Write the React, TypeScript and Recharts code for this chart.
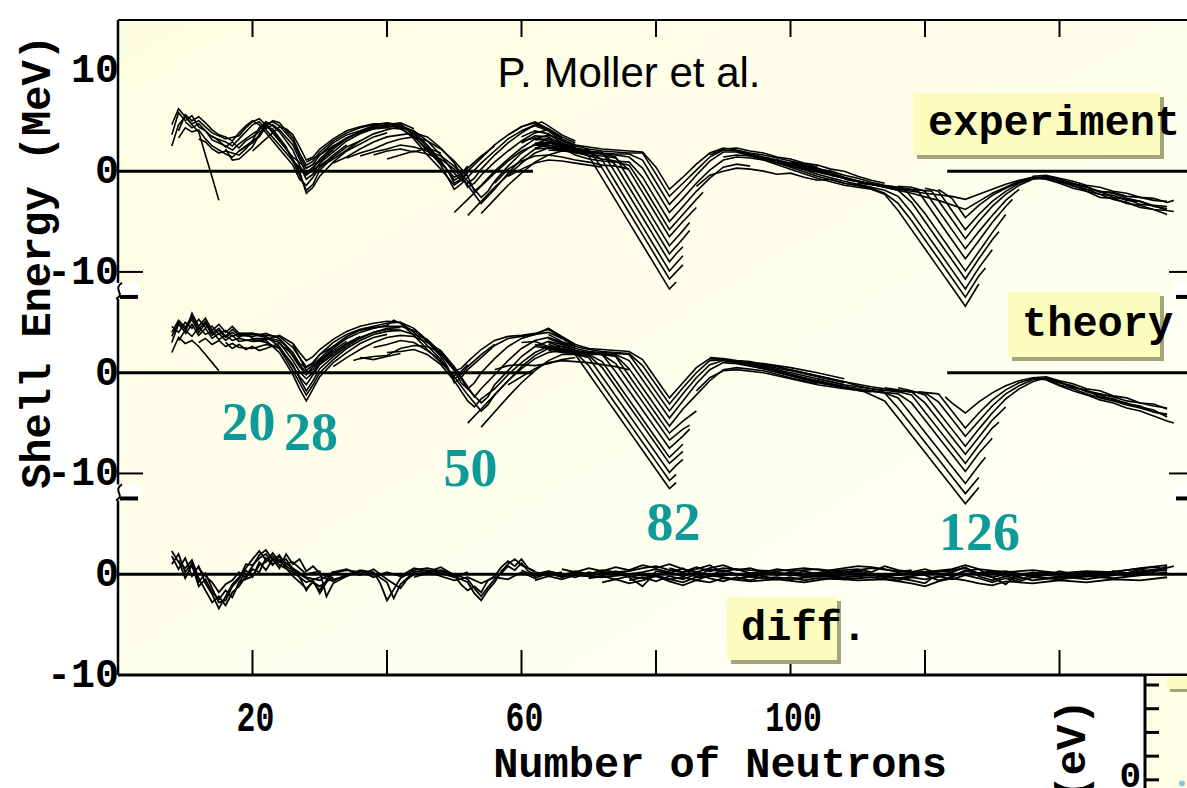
import React from 'react';
import { LineChart, Line, XAxis, YAxis, ReferenceLine, ReferenceDot, CartesianGrid } from 'recharts';

type Pt = [number, number];

// ---------------- axes & labels ----------------
const xTicks = [20, 40, 60, 80, 100, 120, 140];
const xTickLabels = ['20', '', '60', '', '100', '', ''];
const yTicks = [10, 0, -10, -20, -30, -40, -50];
const yTickLabels = ['10', '0', '-10', '0', '-10', '0', '-10'];
const breakTicks = [-10, -30];
const panelOffsets = [0, -20, -40];
const panelNames = ['experiment', 'theory', 'diff.'];
const zeroSpansTop: Pt[] = [[0, 61.7], [123.3, 160]];
const zeroSpansMid: Pt[] = [[0, 61.7], [123.3, 160]];
const zeroSpansBottom: Pt[] = [[0, 160]];
const magicNumbers = ['20', '28', '50', '82', '126'];
const magicLabelN = [19.4, 28.7, 52.4, 82.6, 128.1];
const magicLabelE = [-26.7, -27.7, -31.2, -36.6, -37.6];

// ---------------- experiment (top panel), MeV ----------------
const expLight: Pt[][] = [
  [[8,2.5],[9,4.6],[10,5.4],[11,4.6],[12,3.9],[13,1.6],[14,-0.6],[15,-2.9]],
  [[8,3.6],[9,5.8],[10,5.0],[11,5.5],[12,4.4],[13,4.0],[14,3.4],[16,2.9],[17,2.5],[18,3.2],[20,4.6],[21,4.9],[22,4.1],[24,2.6],[26,1.0],[28,-0.4],[30,0.6],[32,1.4]],
  [[8,4.6],[9,6.2],[10,5.4],[11,4.7],[12,5.0],[13,4.4],[14,3.8],[16,3.2],[18,3.5],[19,4.3],[20,4.9],[21,5.2],[22,4.6],[24,3.0],[26,1.4],[28,0.3],[30,1.0],[32,2.1]],
  [[9,3.3],[10,4.3],[11,3.9],[12,4.1],[13,3.2],[14,2.5],[16,1.7],[17,1.4],[18,2.0],[20,3.0],[21,3.4],[22,4.4],[23,4.2],[25,2.4],[27,-0.4],[28,-1.9],[29,-1.3],[30,0.1],[32,1.4],[34,2.4],[36,3.0]],
  [[10,4.9],[11,4.3],[12,4.7],[13,4.0],[14,3.1],[16,2.5],[17,2.1],[18,2.7],[20,3.7],[21,4.1],[22,4.7],[24,3.2],[26,1.2],[27,0.0],[28,-2.2],[29,-1.6],[30,-0.5],[32,0.9],[34,2.0],[36,2.7],[38,3.4],[40,3.8]],
  [[12,3.2],[13,2.9],[14,2.2],[15,1.8],[16,2.0],[18,1.6],[19,2.2],[20,3.0],[21,4.3],[22,4.9],[23,4.5],[24,3.9],[26,2.1],[27,0.6],[28,-0.8],[29,-0.3],[30,0.8],[32,1.9],[34,3.0],[36,3.7],[38,4.2],[40,4.5],[42,4.4]],
  [[16,2.2],[17,1.1],[18,1.2],[19,1.8],[20,2.4],[21,3.6],[22,4.7],[23,4.9],[24,4.5],[26,3.0],[27,1.5],[28,0.3],[29,0.7],[30,1.6],[32,2.8],[34,3.6],[36,4.0],[38,4.5],[40,4.6],[42,4.7],[44,3.5],[46,2.0],[48,0.8],[50,-0.6],[51,-0.3],[52,0.5]],
  [[18,2.0],[20,2.8],[22,4.4],[23,5.0],[24,4.8],[25,4.0],[26,3.3],[27,1.8],[28,0.6],[29,1.0],[30,1.9],[32,3.0],[34,3.8],[36,4.3],[38,4.6],[40,4.8],[42,4.6],[44,3.9],[46,2.6],[48,1.0],[50,-0.9],[51,-0.5],[52,0.3],[54,1.5],[56,2.5]],
  [[9,4.0],[10,5.6],[11,5.0],[12,5.4],[13,4.8],[14,4.1],[15,3.6],[16,3.4],[17,3.0],[18,3.8],[19,4.5],[20,5.0],[21,4.6],[22,3.8],[24,2.2],[26,0.6],[27,-0.8],[28,-1.4],[29,-0.6],[30,0.4],[32,1.6],[34,2.6]],
  [[14,3.5],[15,3.0],[16,2.4],[17,2.9],[18,2.3],[19,3.0],[20,3.4],[21,3.9],[22,4.2],[23,4.6],[24,4.1],[26,2.6],[27,1.2],[28,-0.2],[29,0.2],[30,1.2],[32,2.4],[34,3.3],[36,3.9],[38,4.4],[40,4.6],[42,4.8],[44,4.2]],
  [[20,2.0],[21,2.6],[22,3.2],[23,3.8],[24,4.4],[25,4.2],[26,3.6],[27,2.4],[28,1.1],[29,1.4],[30,2.2],[32,3.2],[34,4.0],[36,4.4],[38,4.7],[40,4.7],[42,4.4],[44,3.2],[46,1.6],[48,0.2],[50,-1.4],[51,-0.9],[52,-0.2]],
];
const expMid: Pt[][] = [
  [[26,1.0],[28,-0.2],[30,1.0],[32,2.2],[34,3.2],[36,3.9],[38,4.3],[40,4.4],[42,4.5],[44,3.7],[46,2.4],[48,0.9],[49,0.1],[50,-1.2],[51,-0.8],[52,0.0],[54,1.3],[56,2.6],[58,3.6],[60,4.4],[62,4.8],[64,4.0],[66,3.3]],
  [[30,0.4],[32,1.2],[34,2.1],[36,3.0],[38,3.7],[40,4.1],[42,4.4],[44,4.0],[46,3.0],[48,1.6],[50,-0.2],[51,-0.9],[52,-1.2],[53,-0.7],[54,0.2],[56,1.6],[58,2.8],[60,3.8],[62,4.6],[63,4.9],[64,4.5],[66,3.6],[68,3.0]],
  [[32,0.8],[34,1.4],[36,2.2],[38,2.9],[40,3.4],[42,3.6],[44,3.8],[46,3.4],[48,2.3],[50,0.8],[51,-0.3],[52,-1.6],[53,-1.2],[54,-0.4],[56,0.9],[58,2.0],[60,3.0],[62,3.8],[64,4.1],[66,3.4],[68,2.8]],
  [[34,1.3],[36,1.8],[38,2.2],[40,2.8],[42,3.2],[44,3.4],[46,3.0],[48,2.2],[50,1.0],[52,-0.5],[53,-2.0],[54,-1.4],[56,0.0],[58,1.2],[60,2.3],[62,3.2],[64,3.6],[66,3.1],[68,2.6]],
  [[36,1.5],[38,1.9],[40,2.2],[42,2.6],[44,2.4],[46,2.0],[48,1.5],[50,0.5],[52,-1.0],[54,-2.6],[55,-2.0],[56,-1.0],[58,0.5],[60,1.8],[62,2.7],[64,3.2],[66,2.8],[68,2.4]],
  [[38,1.6],[40,2.0],[42,2.2],[44,1.9],[46,2.3],[48,1.8]],
  [[50,-4.1],[52,-2.8],[54,-1.5],[56,-0.2],[58,1.0],[60,2.0],[62,2.6],[64,2.8],[66,2.7],[68,2.3]],
  [[52,-4.4],[54,-3.0],[56,-1.6],[58,-0.4],[60,0.8],[62,1.8],[64,2.3],[66,2.4],[68,2.2]],
  [[54,-4.2],[56,-2.8],[58,-1.4],[60,-0.2],[62,0.9],[64,1.6],[66,2.0],[68,1.9],[70,1.6]],
  [[28,0.9],[30,1.6],[32,2.5],[34,3.3],[36,3.8],[38,4.2],[40,4.3],[42,4.2],[44,3.4],[46,2.2],[48,0.6],[50,-1.8],[51,-1.3],[52,-0.6],[54,0.8],[56,2.0],[58,3.2],[60,4.0],[62,4.6],[64,4.2],[66,3.4]],
  [[40,1.2],[42,1.6],[44,2.0],[46,1.7],[48,1.2],[50,0.2],[52,-1.4],[54,-3.2],[56,-1.8],[58,-0.2],[60,1.2],[62,2.2],[64,2.8],[66,2.5],[68,2.1]],
  [[56,-1.2],[58,0.2],[60,1.0],[62,1.5],[64,1.6],[66,1.4],[68,1.1],[70,0.9],[72,0.6],[74,0.5],[76,0.2]],
  [[58,-0.5],[60,0.2],[62,0.8],[64,1.1],[66,1.0],[68,0.8],[70,0.6],[72,0.4]],
];
const expV82: Pt[][] = [
  [[58,3.6],[60,4.4],[62,4.9],[64,4.2],[66,3.2],[68,2.6],[70,2.4],[72,2.2],[74,2.1],[76,2.0],[78,1.9],[80,0.4],[82,-1.8],[84,-0.6],[86,0.7],[88,1.8],[90,2.3],[92,2.1],[94,1.8],[96,1.6],[98,1.3],[100,1.0],[102,0.7],[104,0.4]],
  [[60,4.0],[62,4.5],[64,4.0],[66,3.0],[68,2.5],[70,2.2],[72,2.0],[74,1.9],[76,1.8],[78,1.8],[80,-0.3],[82,-2.5],[84,-1.2],[86,0.1],[88,1.4],[90,2.1],[92,2.0],[94,1.7],[96,1.4],[98,1.1],[100,0.8],[102,0.5],[106,-0.2]],
  [[60,3.4],[62,4.0],[64,3.7],[66,2.8],[68,2.3],[70,2.0],[72,1.8],[74,1.7],[76,1.7],[78,1.1],[80,-1.1],[82,-3.3],[84,-1.9],[86,-0.4],[88,1.0],[90,1.9],[92,1.9],[94,1.6],[96,1.3],[98,1.0],[100,0.6],[104,0.0],[108,-0.6]],
  [[60,2.8],[62,3.5],[64,3.4],[66,2.6],[68,2.1],[70,1.8],[72,1.7],[74,1.6],[76,1.4],[78,0.3],[80,-1.9],[82,-4.1],[84,-2.7],[86,-1.2],[88,0.1],[90,1.1],[92,1.4],[94,1.3],[96,1.1],[98,0.8],[100,0.5],[104,-0.1],[108,-0.7]],
  [[62,3.1],[64,3.2],[66,2.4],[68,1.9],[70,1.5],[72,1.2],[74,1.0],[76,0.9],[78,-0.6],[80,-2.8],[82,-5.0],[84,-3.5],[86,-2.0],[88,-0.7],[90,0.4],[92,0.7],[94,0.5]],
  [[62,2.7],[64,2.9],[66,2.3],[68,1.6],[70,1.2],[72,1.0],[74,0.9],[76,0.6],[78,-1.4],[80,-3.6],[82,-5.8],[84,-4.3],[86,-2.8],[87,-2.1]],
  [[62,2.3],[64,2.6],[66,2.2],[68,1.8],[70,1.6],[72,1.5],[74,1.3],[76,0.1],[78,-2.1],[80,-4.3],[82,-6.5],[84,-5.0],[86,-3.6]],
  [[64,2.4],[66,2.1],[68,1.9],[70,1.8],[72,1.7],[74,1.4],[76,-0.8],[78,-3.0],[80,-5.2],[82,-7.4],[84,-5.9],[85,-5.1]],
  [[62,2.2],[64,2.3],[66,2.0],[68,1.9],[70,1.8],[72,1.8],[74,0.6],[76,-1.6],[78,-3.8],[80,-6.0],[82,-8.2],[84,-6.7],[85,-5.9]],
  [[64,2.1],[66,2.0],[68,2.0],[70,1.9],[72,1.9],[74,-0.2],[76,-2.4],[78,-4.6],[80,-6.8],[82,-9.0],[83,-8.2],[84,-7.5]],
  [[62,2.6],[64,2.4],[66,2.1],[68,2.0],[70,2.0],[72,1.1],[74,-1.1],[76,-3.3],[78,-5.5],[80,-7.7],[82,-9.9],[84,-8.4]],
  [[62,2.8],[64,2.6],[66,2.3],[68,2.2],[70,2.1],[72,0.3],[74,-1.9],[76,-4.1],[78,-6.3],[80,-8.5],[82,-10.7],[83,-10.0],[84,-9.3]],
  [[60,3.0],[62,3.3],[64,3.0],[66,2.6],[68,2.3],[70,1.5],[72,-0.7],[74,-2.9],[76,-5.1],[78,-7.3],[80,-9.5],[82,-11.7],[83,-11.0]],
];
const expRidge: Pt[][] = [
  [[86,-1.5],[88,-0.4],[90,0.0],[92,0.3],[94,0.2],[96,0.0],[98,-0.3],[100,-0.2],[102,-0.6],[104,-0.9],[106,-0.8],[108,-1.2],[110,-1.4],[112,-1.6]],
  [[88,1.6],[90,2.2],[92,2.3],[94,2.0],[96,1.8],[98,1.4],[100,1.2],[102,0.8],[104,0.6],[106,0.2],[108,0.0],[110,-0.5],[112,-0.9],[114,-1.2]],
  [[90,1.4],[92,1.6],[94,1.5],[96,1.2],[98,1.1],[100,0.7],[102,0.6],[104,0.2],[106,0.0],[108,-0.4],[110,-0.7],[112,-1.1],[114,-1.4],[116,-1.6]],
];
const expV126: Pt[][] = [
  [[100,0.9],[104,0.3],[108,-0.6],[112,-1.3],[116,-1.8],[120,-2.2],[124,-2.5],[126,-2.8],[128,-2.3],[130,-1.8],[132,-1.3],[134,-0.9],[136,-0.6],[138,-0.6],[140,-0.9],[142,-1.3],[144,-1.6],[146,-2.0],[148,-2.1],[150,-2.5],[152,-2.6],[154,-2.9],[156,-3.0]],
  [[98,1.0],[102,0.4],[106,-0.3],[110,-1.0],[114,-1.6],[118,-2.2],[122,-2.9],[126,-3.8],[128,-3.0],[130,-2.2],[132,-1.6],[134,-1.0],[136,-0.6],[138,-0.7],[140,-1.0],[142,-1.5],[144,-1.8],[146,-2.3],[148,-2.4],[150,-2.9],[152,-3.0],[154,-3.4],[156,-3.5]],
  [[122,-1.8],[124,-2.7],[126,-4.6],[128,-3.4],[130,-2.4],[132,-1.7],[134,-1.1],[136,-0.7],[138,-0.8],[140,-1.2],[142,-1.7],[144,-2.0],[146,-2.6],[148,-2.7],[150,-3.2],[152,-3.4],[154,-3.8],[156,-3.9]],
  [[120,-1.7],[122,-2.0],[124,-3.9],[126,-5.8],[128,-4.3],[130,-3.0],[132,-2.0],[134,-1.2],[136,-0.7],[138,-0.5],[140,-0.8],[142,-1.2],[144,-1.5],[146,-2.1],[148,-2.2],[150,-2.7],[152,-3.0],[154,-3.5],[156,-3.7]],
  [[110,-1.2],[114,-1.5],[118,-1.8],[121,-2.0],[124,-4.8],[126,-6.7],[128,-5.0],[130,-3.5],[132,-2.3],[134,-1.4],[136,-0.8],[138,-0.6],[140,-1.0],[142,-1.2],[144,-1.8],[146,-2.0],[148,-2.6],[150,-2.8],[152,-3.3],[154,-3.4],[156,-3.9],[157,-4.0]],
  [[116,-1.5],[118,-1.6],[120,-2.0],[122,-3.9],[124,-5.8],[126,-7.7],[128,-6.0],[130,-4.4],[132,-2.9],[134,-1.8]],
  [[108,-0.8],[112,-1.3],[116,-1.6],[119,-2.0],[122,-4.9],[124,-6.8],[126,-8.7],[128,-6.9],[130,-5.1],[132,-3.5],[133,-2.8]],
  [[106,-0.4],[110,-1.0],[114,-1.5],[117,-1.8],[120,-4.2],[122,-6.1],[124,-8.0],[126,-9.9],[128,-8.0],[130,-6.1],[132,-4.3]],
  [[104,0.0],[108,-0.7],[112,-1.3],[116,-1.9],[118,-3.1],[120,-5.0],[122,-6.9],[124,-8.8],[126,-10.7],[128,-8.7],[130,-6.8],[131,-6.0]],
  [[100,0.6],[104,-0.3],[108,-1.0],[112,-1.6],[114,-1.9],[116,-2.5],[118,-4.1],[120,-6.0],[122,-7.9],[124,-9.8],[126,-11.7],[128,-9.6],[130,-7.8]],
  [[96,1.3],[100,0.4],[104,-0.5],[108,-1.2],[112,-1.7],[114,-2.2],[116,-3.2],[118,-4.9],[120,-6.8],[122,-8.7],[124,-10.6],[126,-12.5],[128,-10.4],[129,-9.6]],
  [[92,1.9],[96,1.1],[100,0.2],[104,-0.7],[108,-1.4],[112,-1.8],[114,-2.3],[116,-3.9],[118,-5.8],[120,-7.7],[122,-9.6],[124,-11.5],[126,-13.4],[128,-11.2]],
];
const expTail: Pt[][] = [
  [[136,-0.5],[138,-0.4],[140,-0.7],[142,-1.0],[144,-1.4],[146,-1.6],[148,-2.0],[150,-2.2],[152,-2.6],[154,-2.7],[156,-3.1],[157,-2.9]],
  [[138,-0.7],[140,-1.1],[142,-1.4],[144,-2.0],[146,-2.3],[148,-2.8],[150,-3.1],[152,-3.6],[154,-3.8],[156,-4.3]],
];

// ---------------- theory (middle panel), MeV ----------------
const thLight: Pt[][] = [
  [[8,2.0],[9,3.5],[10,2.9],[11,3.2],[12,2.6],[13,1.8],[14,1.0],[15,0.2]],
  [[8,3.0],[9,4.8],[10,4.0],[11,5.9],[12,4.6],[13,5.4],[14,4.2],[15,4.8],[16,4.0],[17,4.6],[18,3.9],[20,3.8],[22,3.5],[24,3.2],[25,2.6],[26,1.6],[27,0.6],[28,-0.2],[29,0.6],[30,1.2],[32,2.2]],
  [[8,4.0],[9,5.2],[10,4.5],[11,5.6],[12,4.3],[13,5.1],[14,3.9],[15,4.4],[16,3.6],[17,4.3],[18,3.7],[20,3.6],[22,3.9],[24,3.4],[26,2.0],[27,0.9],[28,0.5],[29,1.0],[30,1.8],[32,2.6],[34,3.4]],
  [[8,4.6],[9,4.0],[10,5.0],[11,4.4],[12,5.3],[13,4.5],[14,4.6],[15,3.8],[16,4.2],[17,3.6],[18,3.9],[20,3.9],[22,3.6],[24,2.6],[26,0.6],[27,-0.4],[28,-1.2],[29,-0.2],[30,0.8],[32,2.0],[34,2.9],[36,3.6]],
  [[9,3.2],[10,4.2],[11,3.6],[12,4.5],[13,3.8],[14,4.1],[15,3.3],[16,3.7],[17,3.2],[18,3.4],[20,3.1],[22,3.2],[24,2.0],[26,-0.2],[27,-1.6],[28,-2.8],[29,-1.6],[30,-0.4],[32,1.0],[34,2.0],[36,2.9],[38,3.5],[40,3.8]],
  [[12,3.0],[13,3.4],[14,2.8],[15,3.2],[16,2.6],[17,2.9],[18,2.5],[20,2.4],[22,2.8],[24,2.5],[26,0.8],[27,-0.6],[28,-1.8],[29,-0.8],[30,0.4],[32,1.6],[34,2.6],[36,3.4],[38,4.0],[40,4.4],[42,4.5]],
  [[16,3.0],[17,2.4],[18,2.8],[19,2.3],[20,2.6],[21,2.2],[22,2.4],[24,2.9],[26,1.8],[27,0.8],[28,0.0],[29,0.3],[30,1.2],[32,2.4],[34,3.4],[36,4.0],[38,4.4],[40,4.7],[41,5.2],[42,4.9],[44,3.7],[46,2.3],[48,1.0],[50,-0.3],[51,0.1],[52,0.8]],
  [[18,3.8],[20,3.9],[22,3.7],[24,3.6],[26,2.5],[27,1.5],[28,0.6],[29,1.0],[30,1.8],[32,3.0],[34,3.8],[36,4.3],[38,4.6],[40,4.9],[42,5.0],[44,4.0],[46,2.7],[48,1.3],[50,-0.6],[51,-0.2],[52,0.6],[54,1.8],[56,2.8]],
  [[8,3.6],[9,5.0],[10,4.3],[11,5.3],[12,4.0],[13,4.9],[14,3.7],[15,4.2],[16,3.5],[17,4.0],[18,3.5],[19,3.9],[20,3.4],[22,3.4],[24,3.0],[26,1.2],[27,0.1],[28,-0.6],[29,0.0],[30,1.0],[32,2.2],[34,3.1]],
  [[10,3.8],[11,4.8],[12,3.7],[13,4.4],[14,3.4],[15,3.9],[16,3.2],[17,3.7],[18,3.1],[20,3.3],[22,3.0],[24,2.4],[26,0.2],[27,-1.0],[28,-2.2],[29,-1.2],[30,0.0],[32,1.3],[34,2.4],[36,3.2],[38,3.8],[40,4.1],[42,4.2]],
  [[20,3.2],[22,3.3],[24,3.7],[26,2.9],[27,2.0],[28,1.2],[29,1.6],[30,2.3],[32,3.3],[34,4.1],[36,4.6],[38,4.9],[40,5.1],[42,5.0],[44,4.4],[46,3.2],[48,1.8],[50,0.2],[51,0.4],[52,1.1],[54,2.3],[56,3.2],[58,3.6],[60,3.7],[62,3.9],[64,4.3],[66,3.4]],
];
const thMid: Pt[][] = [
  [[26,2.8],[28,0.2],[30,1.4],[32,2.6],[34,3.6],[36,4.2],[38,4.5],[40,4.6],[42,4.6],[44,4.2],[46,3.1],[48,1.6],[49,0.6],[50,-1.0],[51,-0.5],[52,0.3],[54,1.5],[56,2.7],[58,3.4],[60,3.6],[62,3.8],[64,4.4],[66,3.6],[68,2.8]],
  [[30,0.8],[32,1.8],[34,2.8],[36,3.5],[38,4.0],[40,4.3],[42,4.2],[44,3.8],[46,3.3],[48,2.0],[50,0.3],[51,-1.0],[52,-1.6],[53,-1.0],[54,0.0],[56,1.4],[58,2.6],[60,3.4],[62,3.8],[64,4.0],[66,3.4],[68,2.6]],
  [[32,0.6],[34,1.5],[36,2.3],[38,3.0],[40,3.5],[42,3.7],[44,3.6],[46,3.0],[48,2.2],[50,0.6],[52,-1.4],[53,-2.4],[54,-1.6],[56,-0.2],[58,1.2],[60,2.4],[62,3.2],[64,3.5],[66,3.0],[68,2.4]],
  [[35,1.2],[36,1.4],[38,1.6],[40,1.7],[42,2.4],[44,2.7],[46,2.6],[48,2.0],[50,0.4],[52,-1.6],[54,-3.0],[55,-2.4],[56,-1.2],[58,0.2],[60,1.6],[62,2.6],[64,3.1],[66,2.8],[68,2.2]],
  [[38,2.5],[40,2.8],[42,3.2],[44,3.0],[46,2.2],[48,1.2],[50,-0.4],[52,-2.2],[54,-3.8],[55,-3.2],[56,-2.2],[58,-0.8],[60,0.6],[62,1.7],[64,2.4],[66,2.4],[68,2.0]],
  [[52,-5.0],[54,-3.6],[56,-2.2],[58,-0.8],[60,0.4],[62,1.4],[64,2.0],[66,2.2],[68,1.9],[70,1.6]],
  [[54,-5.4],[56,-3.9],[58,-2.4],[60,-1.0],[62,0.2],[64,1.2],[66,1.8],[68,1.8],[70,1.5]],
  [[56,0.3],[58,0.7],[60,0.8],[62,0.7],[64,0.9],[66,1.3],[68,1.5]],
  [[36,1.5],[38,1.3],[40,1.6],[42,1.9]],
  [[40,2.0],[42,2.1],[44,2.3],[46,1.8],[48,0.8],[50,-0.8],[52,-2.8],[53,-3.4],[54,-2.6],[56,-1.6],[58,-0.2],[60,1.0],[62,2.0],[64,2.6],[66,2.6],[68,2.2]],
  [[58,-1.2],[60,-0.4],[62,0.4],[64,1.0],[66,1.2],[68,1.1],[70,1.0],[72,0.8],[74,0.6],[76,0.3]],
];
const thV82: Pt[][] = [
  [[62,3.8],[64,4.4],[66,3.5],[68,2.8],[70,2.4],[72,2.3],[74,2.2],[76,2.1],[78,1.3],[80,-0.6],[82,-2.5],[84,-1.0],[86,0.5],[88,1.4],[90,1.3],[92,1.1],[96,0.9],[100,0.5],[104,0.0],[108,-0.6]],
  [[64,3.8],[66,3.1],[68,2.6],[70,2.3],[72,2.1],[74,2.0],[76,1.9],[78,0.7],[80,-1.2],[82,-3.1],[84,-1.5],[86,0.0],[88,1.2],[90,1.3],[92,1.1],[96,0.7],[100,0.2],[104,-0.4],[108,-1.0]],
  [[64,3.4],[66,2.9],[68,2.4],[70,2.1],[72,2.0],[74,1.9],[76,1.8],[78,0.0],[80,-1.9],[82,-3.8],[84,-2.1],[86,-0.5],[88,0.8],[90,1.2],[92,1.0],[96,0.6],[100,0.0],[104,-0.6],[108,-1.2]],
  [[64,3.0],[66,2.6],[68,2.2],[70,2.0],[72,1.9],[74,1.8],[76,1.2],[78,-0.7],[80,-2.6],[82,-4.5],[84,-2.8],[86,-1.1],[88,0.3],[90,1.0],[92,0.9],[96,0.4],[100,-0.3],[104,-0.9],[108,-1.5]],
  [[64,2.8],[66,2.4],[68,2.1],[70,1.9],[72,1.8],[74,1.7],[76,0.4],[78,-1.5],[80,-3.4],[82,-5.3],[84,-3.6],[86,-2.2],[88,-0.8],[90,0.3],[92,0.5],[96,0.2],[100,-0.5],[104,-1.1]],
  [[64,2.6],[66,2.3],[68,2.0],[70,1.9],[72,1.8],[74,1.6],[76,-0.3],[78,-2.2],[80,-4.1],[82,-6.0],[84,-4.8],[86,-3.8]],
  [[66,2.2],[68,2.0],[70,1.9],[72,1.8],[74,0.9],[76,-1.0],[78,-2.9],[80,-4.8],[82,-6.7],[84,-5.6],[85,-5.2]],
  [[66,2.1],[68,1.9],[70,1.8],[72,1.8],[74,0.1],[76,-1.8],[78,-3.7],[80,-5.6],[82,-7.5],[84,-6.3],[85,-5.6]],
  [[64,2.4],[66,2.1],[68,1.9],[70,1.8],[72,1.1],[74,-0.8],[76,-2.7],[78,-4.6],[80,-6.5],[82,-8.4],[84,-7.1]],
  [[64,2.2],[66,2.0],[68,1.8],[70,1.7],[72,0.5],[74,-1.4],[76,-3.3],[78,-5.2],[80,-7.1],[82,-9.0],[83,-8.4],[84,-7.8]],
  [[62,2.6],[64,2.4],[66,2.1],[68,1.9],[70,1.5],[72,-0.4],[74,-2.3],[76,-4.2],[78,-6.1],[80,-8.0],[82,-9.9],[83,-9.2],[84,-8.6]],
  [[62,2.8],[64,2.5],[66,2.2],[68,2.0],[70,0.7],[72,-1.2],[74,-3.1],[76,-5.0],[78,-6.9],[80,-8.8],[82,-10.7],[83,-10.1]],
  [[60,3.0],[62,3.1],[64,2.6],[66,2.2],[68,1.8],[70,-0.1],[72,-2.0],[74,-3.9],[76,-5.8],[78,-7.7],[80,-9.6],[82,-11.5],[83,-10.9]],
];
const thRidge: Pt[][] = [
  [[86,-1.8],[88,-0.5],[90,0.2],[92,0.3],[96,0.0],[100,-0.6],[104,-1.2],[108,-1.6],[112,-1.9]],
  [[88,1.5],[90,1.4],[92,1.2],[94,1.1],[96,0.8],[98,0.6],[100,0.3],[102,0.0],[104,-0.3],[106,-0.6],[108,-0.9],[110,-1.3],[112,-1.6],[114,-1.8]],
];
const thV126: Pt[][] = [
  [[123,-2.4],[124,-3.0],[126,-4.0],[128,-2.9],[130,-2.0],[132,-1.3],[134,-0.8],[136,-0.5],[138,-0.6],[140,-1.0],[142,-1.4],[144,-1.8],[146,-2.1],[148,-2.4],[150,-2.8],[152,-3.0],[154,-3.3],[156,-3.5]],
  [[119,-1.9],[122,-2.1],[124,-3.8],[126,-5.5],[128,-4.0],[130,-2.7],[132,-1.7],[134,-1.0],[136,-0.6],[138,-0.7],[140,-1.2],[142,-1.6],[144,-2.1],[146,-2.5],[148,-2.8],[150,-3.2],[152,-3.5],[154,-3.9],[156,-4.1]],
  [[100,0.3],[104,-0.3],[108,-0.9],[112,-1.4],[116,-1.8],[120,-2.0],[122,-2.9],[124,-4.6],[126,-6.3],[128,-4.8],[130,-3.3],[132,-2.1],[134,-1.3],[136,-0.7],[138,-0.6],[140,-1.0],[142,-1.3],[144,-1.9],[146,-2.2],[148,-2.7],[150,-3.0],[152,-3.4],[154,-3.7],[156,-4.4]],
  [[116,-1.5],[118,-1.8],[120,-2.2],[122,-3.9],[124,-5.6],[126,-7.3],[128,-5.6],[130,-4.0],[132,-2.6],[134,-1.6],[136,-0.9],[138,-0.5],[140,-0.9],[142,-1.5],[144,-1.7],[146,-2.4],[148,-2.6],[150,-3.1],[152,-3.3],[154,-3.9],[156,-4.2]],
  [[114,-1.5],[116,-1.7],[118,-1.9],[120,-3.0],[122,-4.7],[124,-6.4],[126,-8.1],[128,-6.4],[130,-4.7],[132,-3.4]],
  [[104,-0.6],[108,-1.2],[112,-1.6],[116,-1.9],[118,-2.2],[120,-3.9],[122,-5.6],[124,-7.3],[126,-9.0],[128,-7.2],[130,-5.5],[131,-4.9]],
  [[100,-0.2],[104,-0.8],[108,-1.4],[112,-1.8],[116,-2.1],[118,-3.0],[120,-4.7],[122,-6.4],[124,-8.1],[126,-9.8],[128,-8.0],[130,-6.5]],
  [[98,0.2],[102,-0.6],[106,-1.2],[110,-1.7],[114,-2.0],[116,-2.5],[118,-4.2],[120,-5.9],[122,-7.6],[124,-9.3],[126,-11.0],[128,-9.2],[129,-8.4]],
  [[94,0.8],[98,0.2],[102,-0.5],[106,-1.1],[110,-1.6],[114,-2.0],[116,-3.5],[118,-5.2],[120,-6.9],[122,-8.6],[124,-10.3],[126,-12.0],[128,-10.4]],
  [[92,1.0],[96,0.4],[100,-0.3],[104,-1.0],[108,-1.5],[111,-1.9],[114,-2.8],[116,-4.5],[118,-6.2],[120,-7.9],[122,-9.6],[124,-11.3],[126,-13.0],[127,-12.2],[128,-11.4]],
];
const thTail: Pt[][] = [
  [[136,-0.5],[138,-0.4],[140,-0.8],[142,-1.1],[144,-1.6],[146,-1.8],[148,-2.3],[150,-2.5],[152,-3.0],[154,-3.1],[156,-3.6]],
  [[138,-0.7],[140,-1.3],[142,-1.8],[144,-2.2],[146,-2.7],[148,-3.0],[150,-3.5],[152,-3.8],[154,-4.3],[156,-4.8],[157,-5.0]],
];

// ---------------- difference (bottom panel), MeV ----------------
const diffCurves: Pt[][] = [
  [[8,1.8],[9,0.5],[10,1.6],[11,-0.2],[12,0.8],[13,-0.9],[14,-2.0],[15,-3.4],[16,-2.2],[17,-1.0],[18,-0.3],[19,0.6],[20,1.5],[21,2.3],[22,1.4],[23,1.8],[24,0.9],[26,0.2],[28,-0.8],[30,-0.3]],
  [[8,2.3],[9,1.2],[10,0.6],[11,1.4],[12,-0.4],[13,-1.6],[14,-2.8],[15,-2.2],[16,-3.1],[17,-1.8],[18,-1.2],[19,-0.2],[20,0.8],[21,1.9],[22,2.4],[23,1.4],[24,1.9],[25,0.8],[26,0.4],[28,-0.4],[30,-1.2],[32,-0.3]],
  [[9,1.4],[10,-0.4],[11,0.9],[12,-1.2],[13,-0.5],[14,-1.8],[15,-2.5],[16,-1.6],[17,-2.3],[18,-0.8],[20,-0.2],[21,0.9],[22,1.2],[23,2.1],[24,1.2],[25,1.5],[26,0.5],[27,-0.3],[28,-1.6],[29,-0.6],[30,-1.9],[31,-0.8],[32,0.1],[34,0.4],[36,0.2]],
  [[12,0.6],[13,-0.2],[14,-0.8],[15,-1.8],[16,-1.0],[17,-0.6],[18,0.2],[19,-0.4],[20,0.5],[21,0.2],[22,1.6],[23,0.9],[24,1.8],[25,1.1],[26,1.2],[27,0.6],[28,0.0],[30,0.3],[31,-2.2],[32,-0.9],[34,-0.2],[36,0.3],[38,0.1],[40,-0.8],[41,-2.4],[42,-1.0],[44,0.2],[46,0.4],[48,0.1],[50,-0.3],[52,0.2]],
  [[18,-0.9],[19,0.4],[20,-0.3],[21,1.2],[22,0.4],[23,1.5],[24,0.6],[25,2.0],[26,1.0],[27,1.5],[28,0.3],[29,0.8],[30,0.1],[32,-0.5],[34,-0.2],[36,0.4],[38,0.2],[39,-0.9],[40,-2.6],[41,-1.5],[42,-0.4],[44,0.4],[46,0.6],[48,0.3],[50,-0.2],[52,-0.8],[53,-1.9],[54,-2.6],[55,-1.6],[56,-0.8],[57,0.3],[58,1.0],[59,1.5],[60,0.9],[62,0.3]],
  [[24,1.5],[26,0.6],[28,-0.3],[30,-0.6],[32,0.2],[34,0.5],[36,-0.1],[38,0.5],[40,-0.5],[42,-1.4],[43,-0.5],[44,0.0],[46,0.2],[48,0.7],[50,-0.1],[51,-1.0],[52,-1.6],[53,-1.2],[54,-1.8],[55,-0.6],[56,-0.2],[57,0.7],[58,1.3],[59,0.8],[60,1.5],[61,0.6],[62,0.2],[64,-0.1],[66,0.2]],
  [[30,-0.2],[32,-0.7],[34,0.0],[36,0.3],[38,-0.3],[40,0.2],[42,-0.2],[44,0.6],[46,0.3],[48,-0.2],[50,-0.6],[52,-0.3],[54,-0.9],[56,-0.3],[58,-0.5],[60,0.2],[62,-0.4],[64,0.1],[66,-0.3],[68,0.0],[70,-0.2],[72,0.2],[74,0.1],[76,-0.3],[78,-1.2],[79,-0.5],[80,0.3],[82,0.1],[84,0.6],[86,-0.3],[88,0.5],[90,0.2]],
  [[60,0.4],[62,-0.2],[64,0.2],[66,-0.1],[68,0.3],[70,0.0],[72,0.4],[74,0.2],[76,0.3],[78,0.6],[80,0.8],[82,0.4],[84,0.2],[86,0.5],[88,0.9],[89,0.5],[90,0.3],[92,0.5],[94,0.1],[96,0.3],[98,-0.1],[100,0.2],[102,0.0],[104,0.1],[106,0.4],[108,0.6],[110,0.8],[112,0.7],[114,0.5],[116,0.2],[118,0.4]],
  [[70,-0.4],[72,-0.2],[74,-0.5],[76,-0.2],[78,-0.4],[80,-0.1],[82,-0.5],[84,-0.3],[86,-0.6],[88,-0.1],[90,-0.3],[92,-0.5],[94,-0.2],[96,-0.4],[98,-0.3],[100,-0.5],[104,-0.2],[108,-0.3],[112,-0.1],[116,-0.4],[118,-0.2],[120,0.0],[122,0.3],[124,0.2],[126,0.7],[127,0.3],[128,-0.2],[130,-0.6],[132,-0.2],[134,-0.5],[136,-0.1],[138,-0.4],[140,-0.2],[144,-0.5],[148,-0.1],[152,0.3],[156,0.6]],
  [[82,0.6],[84,0.2],[86,0.7],[88,0.3],[90,0.6],[94,0.4],[98,0.3],[102,0.6],[106,0.3],[110,0.5],[112,0.2],[114,0.8],[116,0.4],[118,0.2],[120,-0.1],[122,-0.6],[124,-0.3],[126,0.3],[128,0.5],[130,-0.3],[132,-1.0],[133,-0.4],[134,0.0],[138,0.2],[142,-0.2],[146,0.1],[150,0.4],[154,0.7],[156,0.5]],
  [[62,-0.6],[64,-0.2],[66,-0.5],[68,-0.1],[72,-0.3],[76,0.0],[80,-0.2],[84,-0.8],[86,-0.3],[90,-0.1],[96,0.2],[100,0.0],[106,0.2],[110,0.1],[114,-0.2],[118,-0.6],[120,-0.9],[121,-0.4],[124,0.0],[128,0.1],[132,0.3],[136,-0.2],[140,0.0],[146,0.2],[150,-0.1],[154,0.3],[157,0.8]],
  [[90,0.1],[94,-0.2],[98,0.1],[102,-0.2],[106,-0.1],[110,0.0],[116,-0.1],[120,0.2],[124,0.4],[126,0.6],[128,0.1],[130,0.3],[134,-0.3],[136,-0.6],[140,-0.3],[144,-0.2],[148,0.0],[152,0.2],[156,0.4]],
  [[8,1.0],[9,2.0],[10,0.2],[11,1.1],[12,-0.8],[13,0.1],[14,-1.4],[15,-2.8],[16,-2.6],[17,-1.2],[18,-0.5],[19,1.0],[20,0.9],[21,1.6],[22,2.0],[23,1.0],[24,1.4],[26,-0.2],[28,-1.4],[29,-0.8],[30,-1.6],[31,-0.6],[32,0.3]],
  [[44,-0.3],[46,0.1],[48,0.4],[50,0.0],[52,-0.5],[53,-1.4],[54,-2.2],[55,-1.3],[56,-0.5],[57,0.1],[58,0.8],[59,0.4],[60,1.1],[61,0.3],[62,0.0],[64,0.3],[66,-0.2],[68,0.2],[70,-0.1]],
  [[64,0.3],[66,0.0],[68,-0.3],[70,0.2],[72,-0.1],[74,0.3],[76,0.0],[78,0.2],[80,0.5],[82,0.2],[84,-0.2],[86,0.2],[88,-0.1],[90,0.4],[92,0.0],[94,-0.3],[96,0.0],[98,0.2],[100,-0.1],[102,0.3],[104,0.0],[106,-0.2],[108,0.1],[110,0.3],[112,0.0],[114,-0.3],[116,0.0],[118,0.2],[120,0.5],[122,0.1],[124,-0.2],[126,0.4],[128,0.0],[130,-0.3],[132,0.0],[134,-0.2],[136,0.2],[138,-0.1],[140,0.3],[142,0.0],[144,0.2],[146,-0.1],[148,0.3],[150,0.1],[152,0.5],[154,0.2],[156,0.8]],
  [[76,-0.6],[78,-0.3],[80,-0.7],[82,-0.2],[84,-0.5],[86,0.0],[88,-0.4],[90,-0.7],[92,-0.3],[94,-0.6],[96,-0.2],[98,-0.5],[100,-0.3],[102,-0.6],[104,-0.4],[108,-0.5],[112,-0.3],[116,-0.6],[118,-0.3],[120,-0.5],[122,-0.2],[124,-0.5],[126,-0.1],[128,-0.4],[130,-0.8],[132,-0.4],[134,-0.7],[136,-0.3],[140,-0.5],[144,-0.2],[148,-0.4],[152,-0.1],[156,0.2]],
  [[66,0.5],[68,0.2],[70,0.6],[72,0.3],[74,0.7],[76,0.4],[78,0.9],[80,0.6],[82,1.0],[84,0.5],[86,0.2],[88,0.6],[90,0.9],[92,0.4],[94,0.6],[96,0.2],[98,0.5],[100,0.3],[104,0.5],[108,0.2],[112,0.6],[116,0.3],[120,0.2],[124,0.5],[126,0.9],[128,0.5],[132,0.2],[136,0.4],[140,0.1],[144,0.3],[148,0.2],[152,0.6],[156,0.9]],
  [[72,-0.8],[74,-0.5],[76,-0.9],[78,-0.6],[80,-0.2],[82,-0.7],[84,-1.1],[86,-0.6],[88,-0.8],[90,-0.4],[94,-0.7],[98,-0.5],[102,-0.8],[106,-0.4],[110,-0.6],[114,-0.5],[118,-0.9],[120,-1.2],[122,-0.7],[124,-0.4],[126,-0.6],[128,-0.9],[130,-1.1],[132,-0.7],[136,-0.9],[140,-0.6],[144,-0.8],[148,-0.5],[152,-0.6],[156,-0.3]],
];

// inset (partly visible neighbouring chart)
const insetTicks = [0, 1, 2, 3, 4];
const insetPoints = [{ t: 0.37, v: -0.15 }];

const experimentCurves = [...expLight, ...expMid, ...expV82, ...expRidge, ...expV126, ...expTail];
const theoryCurves = [...thLight, ...thMid, ...thV82, ...thRidge, ...thV126, ...thTail];
const panels = [experimentCurves, theoryCurves, diffCurves];

const MONO = "'Liberation Mono', 'Courier New', monospace";
const SANS = "'Liberation Sans', Arial, sans-serif";
const SERIF = "'Liberation Serif', 'Times New Roman', serif";
const TEAL = '#0f9a9a';
const BOX = '#FCFCBF';
const SHADOW = '#A3A37C';

function BreakGlyph({ x, y, side }: { x: number; y: number; side: number }) {
  const x0 = side > 0 ? x : x - 20;
  return (
    <g>
      <rect x={x0 - 2} y={y + 11} width={24} height={16} fill="#fff" />
      <path d={`M${x - 2 * side},${y + 27} C${x + 8 * side},${y + 22} ${x - 6 * side},${y + 17} ${x + 4 * side},${y + 11}`} fill="none" stroke="#000" strokeWidth={2} />
      <line x1={x0 + 2} x2={x0 + 20} y1={y + 25} y2={y + 25} stroke="#000" strokeWidth={4} />
    </g>
  );
}

function LeftTick(p: any) {
  const { x, y, payload } = p;
  const v = payload.value;
  const label = yTickLabels[yTicks.indexOf(v)];
  const isBreak = breakTicks.includes(v);
  return (
    <g>
      <text x={x + 1} y={y + 12} textAnchor="end" fontFamily={MONO} fontWeight={700} fontSize={40} fill="#000">{label}</text>
      {isBreak ? <line x1={x} x2={x + 25} y1={y} y2={y} stroke="#000" strokeWidth={2} /> : null}
      {isBreak ? <BreakGlyph x={x} y={y} side={1} /> : null}
    </g>
  );
}

function RightTick(p: any) {
  const { x, y, payload } = p;
  const isBreak = breakTicks.includes(payload.value);
  if (!isBreak) return <g />;
  return (
    <g>
      <line x1={x - 25} x2={x} y1={y} y2={y} stroke="#000" strokeWidth={2} />
      <BreakGlyph x={x} y={y} side={-1} />
    </g>
  );
}

function BottomTick(p: any) {
  const { x, y, payload } = p;
  const label = xTickLabels[xTicks.indexOf(payload.value)];
  return (
    <g>
      <line x1={x} x2={x} y1={y} y2={y - 25} stroke="#000" strokeWidth={2} />
      {label ? (
        <text transform={`translate(${x + 3},${y + 56}) scale(0.75,1)`} textAnchor="middle" fontFamily={MONO} fontWeight={700} fontSize={42} fill="#000">{label}</text>
      ) : null}
    </g>
  );
}

function TopTick(p: any) {
  const { x, y } = p;
  return <line x1={x} x2={x} y1={y} y2={y + 17} stroke="#000" strokeWidth={2} />;
}

function InsetTick(p: any) {
  const { x, y, payload } = p;
  return (
    <g>
      <line x1={x} x2={x + 14} y1={y} y2={y} stroke="#000" strokeWidth={3} />
      {payload.value === 0 ? (
        <text x={x - 4} y={y + 7} textAnchor="end" fontFamily={MONO} fontWeight={700} fontSize={36} fill="#000">0</text>
      ) : null}
    </g>
  );
}

const toRows = (c: Pt[], off: number) => c.map(([n, e]) => ({ n, y: e + off }));

export default function App() {
  const lines: React.ReactNode[] = [];
  panels.forEach((curves, pi) => {
    curves.forEach((c, ci) => {
      const onAlt = pi === 1;
      lines.push(
        <Line
          key={`p${pi}-${ci}`}
          data={toRows(c, panelOffsets[pi])}
          dataKey="y"
          xAxisId={onAlt ? 't' : 'b'}
          yAxisId={onAlt ? 'r' : 'l'}
          type="linear"
          stroke="#000"
          strokeWidth={pi === 2 ? 1.8 : 1.6}
          dot={false}
          activeDot={false}
          isAnimationActive={false}
        />
      );
    });
  });

  const zeroSegs: React.ReactNode[] = [];
  [zeroSpansTop, zeroSpansMid, zeroSpansBottom].forEach((spans, pi) => {
    spans.forEach(([a, b], si) => {
      zeroSegs.push(
        <ReferenceLine
          key={`z${pi}-${si}`}
          xAxisId="b"
          yAxisId="l"
          segment={[{ x: a, y: panelOffsets[pi] }, { x: b, y: panelOffsets[pi] }]}
          stroke="#000"
          strokeWidth={3}
        />
      );
    });
  });

  const boxes = [
    { x: 913, y: 93, w: 247, h: 62, tx: 928, ty: 135 },
    { x: 1008, y: 292, w: 152, h: 65, tx: 1022, ty: 336 },
    { x: 727, y: 597, w: 110, h: 63, tx: 741, ty: 640 },
  ];

  return (
    <div style={{ position: 'fixed', left: 0, top: 0, width: 1187, height: 788, overflow: 'hidden', background: '#fff' }}>
      <LineChart width={1254} height={788} margin={{ top: 0, right: 0, bottom: 53, left: 18 }}>
        <defs>
          <linearGradient id="plotBg" x1="0" y1="0" x2="1" y2="1">
            <stop offset="0%" stopColor="#FDFDE1" />
            <stop offset="100%" stopColor="#FFFFF7" />
          </linearGradient>
        </defs>
        <CartesianGrid xAxisId="b" yAxisId="l" fill="url(#plotBg)" horizontal={false} vertical={false} />
        <XAxis xAxisId="b" type="number" dataKey="n" domain={[0, 160]} allowDataOverflow ticks={xTicks} interval={0} height={60}
          axisLine={{ stroke: '#000', strokeWidth: 3 }} tickLine={false} tickSize={0} tickMargin={0} tick={(p: any) => <BottomTick {...p} />} />
        <XAxis xAxisId="t" orientation="top" type="number" dataKey="n" domain={[0, 160]} allowDataOverflow ticks={xTicks} interval={0} height={20}
          axisLine={{ stroke: '#000', strokeWidth: 2 }} tickLine={false} tickSize={0} tickMargin={0} tick={(p: any) => <TopTick {...p} />} />
        <YAxis yAxisId="l" type="number" domain={[-50, 15]} allowDataOverflow ticks={yTicks} interval={0} width={100}
          axisLine={{ stroke: '#000', strokeWidth: 2.5 }} tickLine={false} tickSize={0} tickMargin={0} tick={(p: any) => <LeftTick {...p} />} />
        <YAxis yAxisId="r" orientation="right" type="number" domain={[-50, 15]} allowDataOverflow ticks={yTicks} interval={0} width={60}
          axisLine={{ stroke: '#000', strokeWidth: 2.5 }} tickLine={false} tickSize={0} tickMargin={0} tick={(p: any) => <RightTick {...p} />} />
        {zeroSegs}
        {lines}
        {magicNumbers.map((m, i) => (
          <ReferenceDot
            key={`m${i}`}
            xAxisId="b"
            yAxisId="l"
            x={magicLabelN[i]}
            y={magicLabelE[i]}
            r={0}
            shape={(p: any) => (
              <text x={p.cx} y={p.cy} textAnchor="middle" fontFamily={SERIF} fontWeight={700} fontSize={54} fill={TEAL}>{m}</text>
            )}
          />
        ))}
      </LineChart>

      <svg width={1187} height={788} style={{ position: 'absolute', left: 0, top: 0, pointerEvents: 'none' }}>
        <text x={629} y={87} textAnchor="middle" fontFamily={SANS} fontSize={42} fill="#000">P. Moller et al.</text>
        {boxes.map((b, i) => (
          <g key={`b${i}`}>
            <rect x={b.x + 4} y={b.y + 4} width={b.w} height={b.h} fill={SHADOW} />
            <rect x={b.x} y={b.y} width={b.w} height={b.h} fill={BOX} />
            <text x={b.tx} y={b.ty} fontFamily={MONO} fontWeight={700} fontSize={42} fill="#000">{panelNames[i]}</text>
          </g>
        ))}
        <text x={720} y={777} textAnchor="middle" fontFamily={MONO} fontWeight={700} fontSize={42} fill="#000">Number of Neutrons</text>
        <text transform="translate(50,262) rotate(-90)" textAnchor="middle" fontFamily={MONO} fontWeight={700} fontSize={42} fill="#000">Shell Energy (MeV)</text>
        <text transform="translate(1085,750) rotate(-90)" textAnchor="middle" fontFamily={MONO} fontWeight={700} fontSize={42} fill="#000">(eV)</text>
      </svg>

      <div style={{ position: 'absolute', left: 1085, top: 676 }}>
        <LineChart width={160} height={124} margin={{ top: 0, right: 0, bottom: 0, left: 0 }}>
          <CartesianGrid fill="#FFFFE6" horizontal={false} vertical={false} />
          <XAxis type="number" dataKey="t" domain={[0, 1]} hide />
          <YAxis type="number" domain={[-0.85, 4.38]} ticks={insetTicks} interval={0} width={60}
            axisLine={{ stroke: '#000', strokeWidth: 3 }} tickLine={false} tickSize={0} tickMargin={0} tick={(p: any) => <InsetTick {...p} />} />
          <Line data={insetPoints} dataKey="v" stroke="none" dot={{ r: 3, fill: '#8cc6d6', stroke: 'none' }} isAnimationActive={false} />
        </LineChart>
      </div>
      <svg width={1187} height={788} style={{ position: 'absolute', left: 0, top: 0, pointerEvents: 'none' }}>
        <rect x={1170} y={680} width={30} height={12} fill={SHADOW} />
        <rect x={1167} y={677} width={30} height={12} fill={BOX} />
      </svg>
    </div>
  );
}
